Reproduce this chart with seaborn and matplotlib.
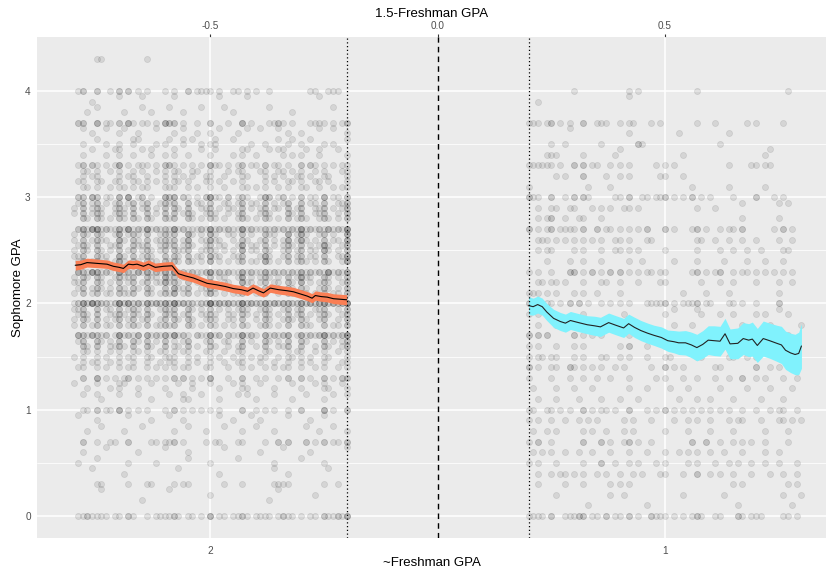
import matplotlib
matplotlib.use("Agg")
import matplotlib.pyplot as plt
from matplotlib.ticker import FixedLocator
import seaborn as sns
import pandas as pd
import numpy as np

# ---------------- data ----------------
# y levels of the point rows (Sophomore GPA), top to bottom
row_levels = [4.3, 4.2, 4.1, 4.0, 3.9, 3.8, 3.7, 3.6, 3.5, 3.4, 3.3, 3.2, 3.1, 3.0,
              2.9, 2.8, 2.7, 2.6, 2.5, 2.4, 2.3, 2.2, 2.1, 2.0, 1.9, 1.8, 1.7, 1.6,
              1.5, 1.4, 1.3, 1.2, 1.1, 1.0, 0.9, 0.8, 0.7, 0.6, 0.5, 0.4, 0.3, 0.2,
              0.1, 0.0]
# x columns (1.5 - Freshman GPA), 0.01 GPA grid
left_cols = np.round(np.arange(-0.80, -0.195, 0.01), 2)
right_cols = np.round(np.arange(0.20, 0.805, 0.01), 2)
# counts per column: digit n = n points at the level,
# a..i = n points 0.05 above it, A..I = n points at both
left_rows = [
    ".....11... ......1... .......... .......... .......... .......... .",
    ".......... .......... .......... .......... .......... .......... .",
    ".......... .......... .......... .......... .......... .......... .",
    ".12..2..1. 2.2.1.1... 1.1..2.111 1.1..11.1. 1..1...... ..11..111. .",
    "....1..... a....a.... ..a....... ..a.....a. .......... ....a..... .",
    "...1.a.... .1...a.1.. .a..1...a. ...a.1.... ...a....1. .......a.. .",
    ".22..3.11. 2.31.11.1. 322.1..1.. 2...1..3.1 ...1121.1. ..1111.1.1 2",
    "..a.1..a.. 1a..1...a. ..1.a..1.. 1.a...1.a. .a...a.1.. 1...a..a.. 1",
    "..1..a.1.. 1..Aa...1. 1a..A.a.1. 1A...a...1 ..1..a.1a. 1.a..1.1.. a",
    "..1.a..1.a A..1.a.A.. 1.A..1..a. 1a...1.Aa. 1..a.aA.1. 1a..A...a. 1",
    ".12.21.1.1 3.1.111.1. 221.1.1.1. 311.1.12.1 1.2.11.1.. 2.21.1.1.1 1",
    "..Aa1A..a. A.1A.a1.a. A.Aa1.Aa.1 A..1a.aA1. .aA.1aA.a1 A.1a.A1..a A",
    ".aA1.Aa.1a A1.Aa1A.a. A1Aa.A.1.a A.a1.a.A1. 1.A.a1.Aa. A1.aA.a1.1 A",
    ".22.32.11. 3.4.12.1.. 323.21.1.2 411.2.121. .132.12.1. 2.11.3.11. 2",
    "1aB.AB1a.A B1aB.AB.1a BaB1.B.aA1 B.1aA1aB.A a1B.A1aB.1 B.aA1B.1aA B",
    "a.B1aBA.1a BA.B1.B1a. B1B.aBA.1a BA.1a.AB1. 1aBA.1.Ba1 B1.aAB1.A. B",
    ".231441211 3141214121 2141211121 4121211412 1121212121 4121213121 4",
    "A.Ba1BA1.a C1aBA.B.1A BAB.1Ca.A1 CA1.aA.B1a .1BaA.1C.A CA.1aB.A1. C",
    "1aBA.B1.Aa B.1BaAB1.A BaB1ABa.1A B1aA.1aC.A A.B1a.ABa1 B.A1aCA.1a B",
    "aAB.1BaA.1 CA.B1aBA1. B1BA.B1aA. CaA.1aAB.1 1aCA.1aB.A B1aA.B1.aA C",
    ".32143121. 4121313121 3141212112 4121211312 1131212121 3121214121 3",
    "A1Ba.BA.1a BaAB.1BaA1 CAB1aB.A1. B.aA1.aC1A .ABa1A.B1a CaA.1BA.a1 B",
    "1aB.ABa1A. BA1Ba.BA.1 B1CaAB.1aA CA.1aA1B.a A1B.aA.BA1 BA.1aBa1A. B",
    "1242532212 5242314232 4252322122 6232322523 2242323322 4232342323 5",
    "aAB1.B.aA1 B1aBA.B1.a BAB.1Ba.A1 B1a.A1aBA. 1aBA.1aB.A B.1aAB1.a1 B",
    "A.Ba1B.A1a B.AB1aB.1A B1Ba.BA.1a BA.1aA.B1. a1BA.1aBa. BA1.aB.1A. B",
    ".3213212.1 41213.3121 314121.211 412.211412 1.312123.1 3121241212 4",
    ".aB1.Ba.A1 B1.Ba.B1a. B.A1aB.1.a B1.aA.1B.a 1.Ba.A1B.. Ba.1.B1a.A B",
    "1.Aa.A.1a. A.1Aa.A1.a A1A.aA.1.a A.1a.1aA.1 .1Aa.1.A1a A.1a.A1.a. A",
    ".1A.aA.1a. A.1A..A.1a 1aA.1A.a.1 A..a1.aA.1 .a1.A.1A.. A.a1.A..1a A",
    "..2..3.1.1 .12.1.1.1. 1.2.2.1.1. 3...1..2.. 1.1..1.2.. 2.1..2.1.2 2",
    "a..1.a..1. Aa..1..a.. 1..a..A... a.1..a.A1. .a..1...a. 1..a.A1..a 1",
    "..a..a1... a...a..1.. .a..A1..a. ..1...a.a. 1...a...1. .a...1.a.. a",
    "..11.2.11. 3.1.1.1... 1.2.1.1.1. 1.1....2.. 1.1.1..1.. 2....3.1.. 2",
    ".a...1.... ..a....1.. .a..1..... ..a..1...a .1.....a.. ..1..a.... .",
    "...1..a... .1...a.... ..1..a...1 ...a...1.. a...1..... .a..1..a.. 1",
    "..2..1..11 ..2....11. 112.1....1 .11...11.. ..1..2.2.. .2.1.2.11. 2",
    "..1....a.. ....1..... a....1.... ...a...... .1....a... ..1....... a",
    ".1...a.... ..1.....1. .....a.... 1.....a... ....1..... a....1.... .",
    "....a..... .1........ ...a...... ..1....... ....a..1.. ......a... .",
    ".....11... ..1...11.. ..1.11.... ...1...1.. ....1111.. .....1..1. .",
    "......a... .......... .a........ 1......... .....a.... ...1...... .",
    ".......... .....a.... .......... .......... ...a...... .......... .",
    ".1121111.1 1.21..1.11 1121.11.1. 3.11.1121. 1111.1211. 1.11.21121 3",
]
right_rows = [
    ".......... .......... .......... .......... .......... .......... .",
    ".......... .......... .......... .......... .......... .......... .",
    ".......... .......... .......... .......... .......... .......... .",
    ".......... 1......... ..1.1..... .......1.. .......... .......1.. .",
    "..1....... .......... ..a....... .......... .......... .......... .",
    ".......... .......... .......... .......... .......... .......... .",
    "111.12.1.1 ..2..111.. 1.11...1.1 .......1.. .1......1. 1.....1... .",
    ".........a .......... ..1....... ...1...... ....1..... .......... .",
    ".....1..1. ......1... ....21.... .......... ..1....... .......... .",
    "....111... ..1......1 a......... ....1..... .......... ..1a...... .",
    "111111.1.. 2.2.11..1. 1.1.....1. 1.1....... ....1....1 1.11...... .",
    "......1.1. ..2....1.. 1.1......1 1...1..... .......... .......... .",
    "1......... ...1....1. .......... ......1... ....1..... ..1....... .",
    "211..2..1. 2.21.....1 1.2..11.11 2.1.1.2.1. 1....1.... 2...1.1... .",
    "..1..11..1 1...1.1.1. .11.1..... .......1.. .1.....a.. .....a.a.. .",
    "..1.12..1. .11...1... .......... .......... .......1.. .....1.... .",
    "2.1.12.111 1.2..2.11. 1.1.1.2... 2.1...12.1 ..1.11.2.. ....1.2.1. .",
    "..111.1.1. 1.1.1.1..1 1.1...11.. .......11. .1..1..1.. 1....1..1. .",
    "..1.11.... 1.1...1..1 1.1.1..... 1......1.. ..1..1..1. .1....11.. .",
    "....1....1 ..1...1... ..1..1.... ..1....1.. ...1....1. ..1...1... .",
    "1.1..1...2 2.1.2.1.2. 2.1.1.11.1 1.....12.1 .12..1.11. 1.1.1.1.1. .",
    "..11.11.1. ..1...11.. 1...1....1 1.......1. ..1..1.... 1....1..1. .",
    "111.1.1... 1.1..1.... 1......... ....1....1 ....1..... .....1.... .",
    "211.11.1.2 .2.1..1.1. 1.1...1111 2.1.1112.1 1...11.1.. 1....2.... .",
    "1.1..1.... ..1....... .1........ 1.a....a1. ..1..1.... 1.1..a.1.. .",
    "..1...1... ..1....... ...1...... ..1...1... .......1.. ...1...... 1",
    "2.2.2..... 2.1.1.1... ..1..1.... 1....1.... ...1...1.. ..1....1.. .",
    "1.1...1... 1.1....... 1.2...1... 1......1.. ........1. .....1.... .",
    "1.11.11... 1.1...11.. 1.1...1... 11.....11. ....11..1. 1....11..1 .",
    "2.1..11..2 1.1.1.1..1 .1.....1.. 2.1.1..... .11....... 2..1.1..11 .",
    "1....1...1 ..1..1..1. ..1.....1. 1...1..1.. .1..1..2.. 1.1...1..1 .",
    ".1....1... 1...1..... ..1...1... .1...1.... ..1.....1. ...1....1. .",
    "..1...1... .1....1... 1...1..... ...1...1.. 1....1.... .1....1... .",
    "11..11.1.1 ..2.1.11.1 ..2...1.1. 2.1.1.1.1. 1.1.1..1.. 1..1.11..1 .",
    "1.1..1..1. .1.1.1.... .1.1...1.. ..1..1.1.. 1...1.11.. .1...11.1. 1",
    ".1..1.1... ..1.1..1.. .1.1...... 1....1.... 1....1.... ..1....1.. .",
    "1.2..1.... ..2...2.1. .12.1..1.. ......2..2 ..1..1.1.1 ..1....1.. .",
    ".1.1.1..1. .1..1...1. ..1...1... 1..1.1.1.. 1..1...1.. ..1..1.... .",
    "1.1...1... ..1...2..1 ..1.1...1. 1....1.1.. .1..1.1..1 ..1..1...1 .",
    "..1..1.11. 1.1..1.1.. 1..1.1...1 1...1..2.. 1.1..1...1 ...1..1..1 .",
    "..1.....1. ..1.....1. 1.1....... .......... .....1.1.. .......1.1 .",
    "......1... ........1. .1........ ....1..... ...1...... ......1... 1",
    ".......... ...1...... ......1... .......... ......1... ........1. .",
    "1111.2..11 122.11.2.1 1.2.1..211 1.1.1.121. .11...21.1 11....11.1 .",
]

# local means (lines) and half-widths of their bands
left_x = [-0.797, -0.785, -0.771, -0.756, -0.742, -0.727, -0.713, -0.700, -0.691, -0.680,
          -0.670, -0.661, -0.647, -0.636, -0.621, -0.603, -0.584, -0.570, -0.555, -0.537,
          -0.522, -0.507, -0.485, -0.467, -0.449, -0.432, -0.418, -0.406, -0.394, -0.383,
          -0.368, -0.350, -0.331, -0.317, -0.302, -0.287, -0.276, -0.269, -0.256, -0.243,
          -0.229, -0.214, -0.200]
left_y = [2.36, 2.365, 2.385, 2.38, 2.375, 2.37, 2.35, 2.34, 2.33, 2.37,
          2.365, 2.37, 2.35, 2.37, 2.34, 2.35, 2.355, 2.28, 2.26, 2.24,
          2.215, 2.19, 2.175, 2.16, 2.14, 2.13, 2.115, 2.145, 2.12, 2.10,
          2.145, 2.13, 2.12, 2.11, 2.09, 2.07, 2.05, 2.075, 2.065, 2.06,
          2.045, 2.04, 2.035]
left_se = [0.045, 0.043, 0.042, 0.041, 0.04, 0.04, 0.04, 0.04, 0.04, 0.04,
           0.04, 0.04, 0.04, 0.04, 0.04, 0.04, 0.04, 0.04, 0.04, 0.04,
           0.04, 0.04, 0.04, 0.04, 0.04, 0.04, 0.04, 0.04, 0.04, 0.04,
           0.04, 0.041, 0.041, 0.042, 0.042, 0.043, 0.043, 0.044, 0.044, 0.045,
           0.046, 0.047, 0.048]
right_x = [0.200, 0.210, 0.220, 0.230, 0.240, 0.255, 0.270, 0.281, 0.292, 0.310,
           0.329, 0.345, 0.358, 0.376, 0.392, 0.409, 0.420, 0.433, 0.447, 0.462,
           0.476, 0.492, 0.506, 0.520, 0.530, 0.545, 0.558, 0.570, 0.583, 0.595,
           0.608, 0.621, 0.632, 0.643, 0.660, 0.672, 0.684, 0.692, 0.703, 0.716,
           0.730, 0.746, 0.756, 0.765, 0.776, 0.786, 0.794, 0.800]
right_y = [1.98, 1.97, 1.99, 1.97, 1.92, 1.86, 1.83, 1.815, 1.84, 1.82,
           1.80, 1.79, 1.78, 1.82, 1.795, 1.77, 1.81, 1.775, 1.745, 1.72,
           1.70, 1.68, 1.65, 1.64, 1.63, 1.63, 1.61, 1.585, 1.615, 1.655,
           1.65, 1.645, 1.715, 1.62, 1.625, 1.67, 1.655, 1.665, 1.605, 1.67,
           1.65, 1.625, 1.61, 1.56, 1.535, 1.52, 1.53, 1.60]
right_se = [0.085, 0.08, 0.08, 0.08, 0.08, 0.085, 0.085, 0.085, 0.085, 0.085,
            0.085, 0.09, 0.09, 0.09, 0.09, 0.09, 0.09, 0.095, 0.095, 0.095,
            0.095, 0.1, 0.1, 0.105, 0.11, 0.115, 0.12, 0.125, 0.13, 0.135,
            0.14, 0.14, 0.145, 0.14, 0.145, 0.15, 0.155, 0.16, 0.16, 0.165,
            0.165, 0.17, 0.175, 0.18, 0.185, 0.19, 0.2, 0.21]

bottom_ticks = [-0.5, 0.5]
bottom_labels = ["2", "1"]
top_ticks = [-0.5, 0.0, 0.5]
top_labels = ["-0.5", "0.0", "0.5"]
y_ticks = [0, 1, 2, 3, 4]


def expand(rows, cols):
    xs, ys = [], []
    for lev, row in zip(row_levels, rows):
        s = row.replace(" ", "")
        for c, ch in zip(cols, s):
            if ch.isdigit():
                spots = [(int(ch), lev)]
            elif ch in "abcdefghi":
                spots = [(ord(ch) - 96, lev + 0.05)]
            elif ch in "ABCDEFGHI":
                n = ord(ch) - 64
                spots = [(n, lev), (n, lev + 0.05)]
            else:
                continue
            for n, y in spots:
                xs += [c] * n
                ys += [y] * n
    return xs, ys


lx, ly = expand(left_rows, left_cols)
rx, ry = expand(right_rows, right_cols)
pts = pd.DataFrame({"x": lx + rx, "y": ly + ry})

# ---------------- plot ----------------
sns.set_theme(style="darkgrid")
plt.rcParams['font.family'] = ['Liberation Sans', 'DejaVu Sans']

W, H = 834, 571
fig = plt.figure(figsize=(W / 100, H / 100), dpi=100)
L, R, T, B = 37, 826, 37, 538
ax = fig.add_axes([L / W, 1 - B / H, (R - L) / W, (B - T) / H])
ax.set_facecolor("#EBEBEB")
fig.patch.set_facecolor("white")

sns.scatterplot(data=pts, x="x", y="y", color="black", alpha=0.09, s=19,
                linewidth=0.6, edgecolor="black", ax=ax, legend=False, zorder=2)

ax.fill_between(left_x, np.array(left_y) - np.array(left_se),
                np.array(left_y) + np.array(left_se), color="#FA7F55", lw=0, zorder=3)
ax.fill_between(right_x, np.array(right_y) - np.array(right_se),
                np.array(right_y) + np.array(right_se), color="#80F2FD", lw=0, zorder=3)
sns.lineplot(x=left_x, y=left_y, color="black", lw=0.8, ax=ax, zorder=4)
sns.lineplot(x=right_x, y=right_y, color="#222222", lw=0.8, ax=ax, zorder=4)

ax.axvline(-0.2, color="black", ls=(0, (1, 2)), lw=0.9, zorder=5)
ax.axvline(0.2, color="black", ls=(0, (1, 2)), lw=0.9, zorder=5)
ax.axvline(0.0, color="black", ls=(0, (4, 3)), lw=1.0, zorder=5)

ax.set_xlim(-0.881, 0.854)
ax.set_ylim(-0.207, 4.508)

ax.set_yticks(y_ticks)
ax.set_yticklabels([str(t) for t in y_ticks])
ax.yaxis.set_minor_locator(FixedLocator([0.5, 1.5, 2.5, 3.5]))
ax.set_xticks(bottom_ticks)
ax.set_xticklabels(bottom_labels)

ax.grid(which="major", color="white", lw=1.1)
ax.grid(which="minor", axis="y", color="white", lw=0.55)
ax.grid(which="major", axis="x", color="white", lw=1.1)
ax.set_axisbelow(True)
for sp in ax.spines.values():
    sp.set_visible(False)

ax.tick_params(axis="both", which="major", length=2.5, width=0.8, color="#333333",
               labelcolor="#4D4D4D", labelsize=7.2, pad=2)
ax.tick_params(axis="both", which="minor", length=0)
ax.tick_params(axis="x", pad=3)

ax.set_xlabel("~Freshman GPA", fontsize=9.5, color="black", labelpad=1)
ax.set_ylabel("Sophomore GPA", fontsize=9.5, color="black")
ax.yaxis.set_label_coords((24.5 - L) / (R - L), 0.5)

sec = ax.secondary_xaxis("top")
sec.set_xticks(top_ticks)
sec.set_xticklabels(top_labels)
sec.tick_params(axis="x", length=2.5, width=0.8, color="#333333",
                labelcolor="#4D4D4D", labelsize=7.2, pad=1.5)
sec.spines["top"].set_visible(False)
sec.set_xlabel("1.5-Freshman GPA", fontsize=9.5, color="black", labelpad=3)

fig.savefig("out.png", dpi=100)
